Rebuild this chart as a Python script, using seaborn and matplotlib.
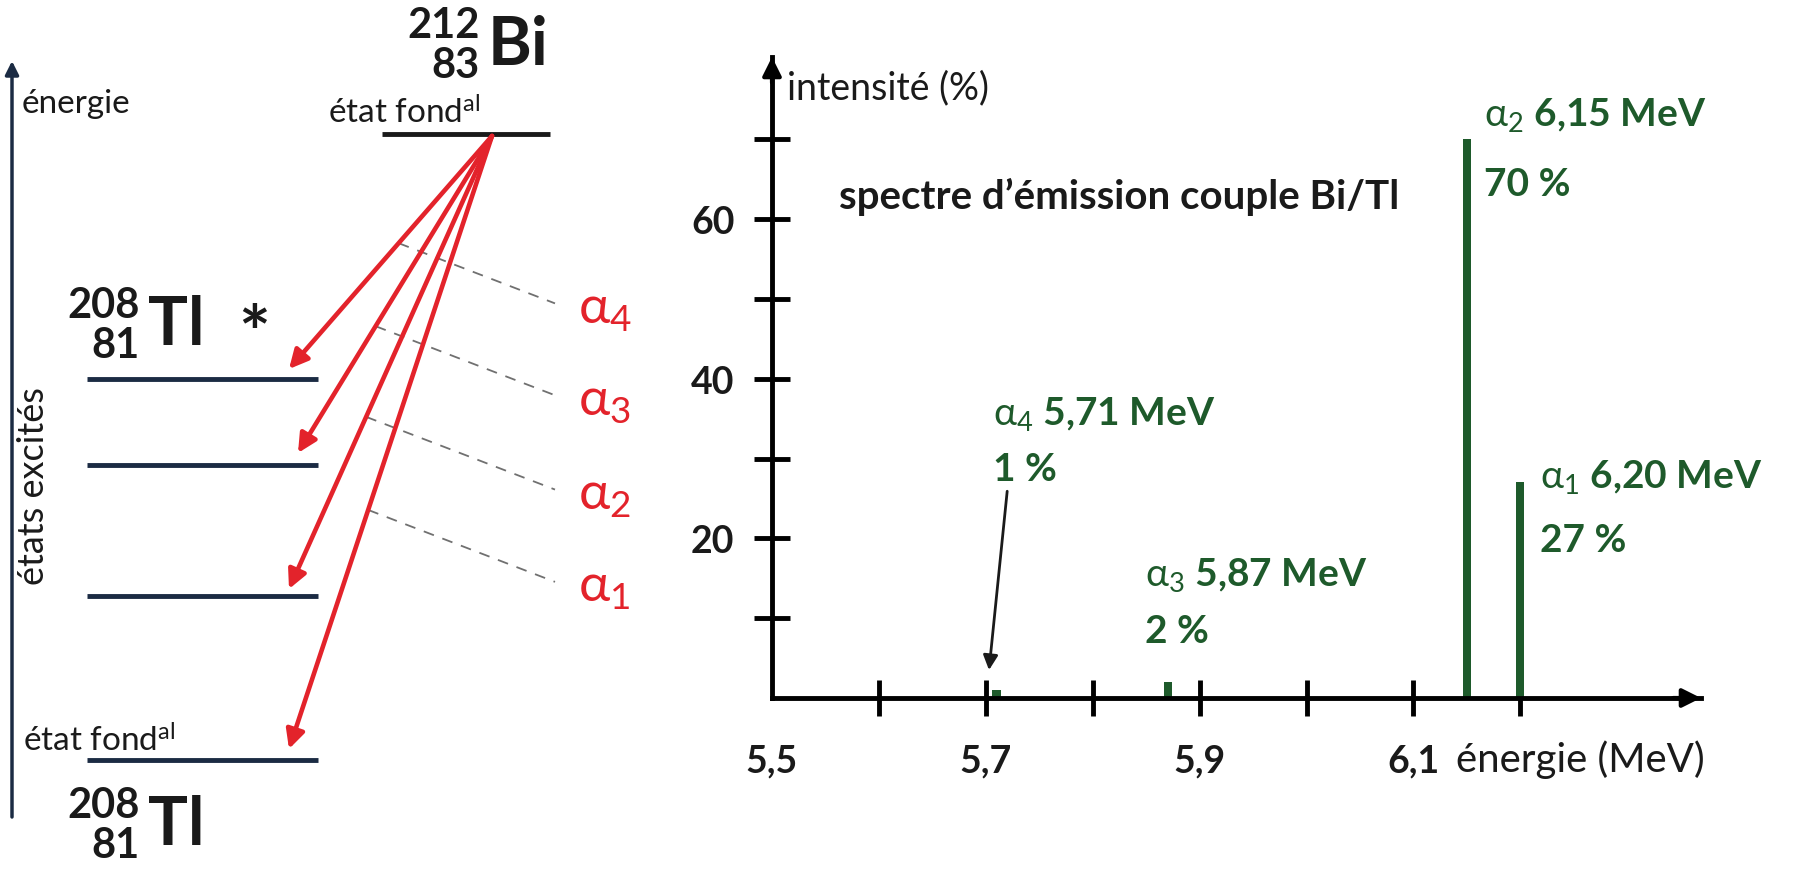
import matplotlib
matplotlib.use("Agg")
import matplotlib.pyplot as plt
import seaborn as sns
import pandas as pd

# Alpha lines of the 212Bi -> 208Tl decay
line_index = [4, 3, 2, 1]
energies_mev = [5.71, 5.87, 6.15, 6.20]
intensity_pct = [1, 2, 70, 27]

x_ticks = [5.5, 5.6, 5.7, 5.8, 5.9, 6.0, 6.1, 6.2]
x_tick_labels = ["5,5", "", "5,7", "", "5,9", "", "6,1", ""]
y_ticks = [10, 20, 30, 40, 50, 60, 70]
y_tick_labels = ["", "20", "", "40", "", "60", ""]

sns.set_theme(style="white")
plt.rcParams["font.family"] = ["Lato", "DejaVu Sans"]
plt.rcParams["mathtext.fontset"] = "custom"
plt.rcParams["mathtext.rm"] = "Lato"
plt.rcParams["mathtext.it"] = "Lato:italic"
plt.rcParams["mathtext.bf"] = "Lato:bold"

GREEN = "#1e5a2b"
RED = "#e3232b"
NAVY = "#1b2b43"
INK = "#1a1a1a"

W, H = 1814, 870
fig = plt.figure(figsize=(W / 100, H / 100), dpi=100)

# ---------------- level scheme (pixel units) ----------------
ax_d = fig.add_axes([0, 0, 1, 1])
ax_d.set_xlim(0, W)
ax_d.set_ylim(H, 0)
ax_d.axis("off")

# energy axis
ax_d.annotate("", xy=(12, 62), xytext=(12, 818),
              arrowprops=dict(arrowstyle="-|>", color=NAVY, lw=2.5,
                              mutation_scale=20, shrinkA=0, shrinkB=0))
ax_d.text(22, 104, "énergie", fontsize=24, ha="left", va="center", color=INK)
ax_d.text(34, 486, "états excités", fontsize=26, rotation=90,
          ha="center", va="center", color=INK)

# 208Tl levels
tl_levels = [380, 466, 597, 761]
for y in tl_levels:
    ax_d.plot([87, 318], [y, y], color=NAVY, lw=3.5, solid_capstyle="butt")
ax_d.text(23, 758, r"état fond$^{\mathrm{al}}$", fontsize=24,
          ha="left", va="bottom", color=INK)

# 212Bi ground state
ax_d.plot([382, 550], [135, 135], color=INK, lw=3.5, solid_capstyle="butt")
ax_d.text(328, 130, r"état fond$^{\mathrm{al}}$", fontsize=24,
          ha="left", va="bottom", color=INK)


def nuclide(x_right, y_mid, mass, charge, symbol, star=None):
    ax_d.text(x_right, y_mid - 1, mass, fontsize=30, fontweight="bold",
              ha="right", va="bottom", color=INK)
    ax_d.text(x_right, y_mid + 1, charge, fontsize=30, fontweight="bold",
              ha="right", va="top", color=INK)
    ax_d.text(x_right + 8, y_mid, symbol, fontsize=48, fontweight="bold",
              ha="left", va="center", color=INK)
    if star is not None:
        ax_d.text(star[0], star[1], "*", fontsize=54, fontweight="bold",
                  ha="center", va="center", color=INK)


nuclide(480, 46, "212", "83", "Bi")
nuclide(140, 326, "208", "81", "Tl", star=(254, 338))
nuclide(140, 826, "208", "81", "Tl")

# alpha transitions
start = (492, 137)
ends = [(289, 370), (298, 454), (289, 590), (289, 750)]
dash_frac = [0.46, 0.60, 0.62, 0.61]
for k, (ex, ey), t in zip(line_index, ends, dash_frac):
    ax_d.annotate("", xy=(ex, ey), xytext=start,
                  arrowprops=dict(arrowstyle="-|>", color=RED, lw=3.3,
                                  mutation_scale=28, shrinkA=0, shrinkB=0))
    sx = start[0] + t * (ex - start[0])
    sy = start[1] + t * (ey - start[1])
    dx = 555
    dy = sy + 0.385 * (dx - sx)
    ax_d.plot([sx, dx], [sy, dy], color="#707070", lw=1.3, ls=(0, (6, 5)))
    ax_d.text(578, dy + 6, rf"$\mathrm{{\alpha}}_{{{k}}}$", fontsize=38,
              color=RED, ha="left", va="center")

# ---------------- emission spectrum ----------------
ax = fig.add_axes([772 / W, 1 - 699 / H, (1701 - 772) / W, (699 - 58) / H])
ax.patch.set_alpha(0)

spec = pd.DataFrame({"energie": energies_mev, "intensite": intensity_pct})
sns.barplot(data=spec, x="energie", y="intensite", native_scale=True,
            width=0.15, color=GREEN, saturation=1, errorbar=None,
            linewidth=0, ax=ax)

ax.set_xlim(5.5, 6.369)
ax.set_ylim(0, 80.3)
ax.set_xlabel("")
ax.set_ylabel("")
for side in ("top", "right"):
    ax.spines[side].set_visible(False)
for side in ("left", "bottom"):
    ax.spines[side].set_linewidth(3.5)
    ax.spines[side].set_color("black")

ax.set_xticks(x_ticks)
ax.set_xticklabels(x_tick_labels, fontsize=27, fontweight="bold", color=INK)
ax.set_yticks(y_ticks)
ax.set_yticklabels(y_tick_labels, fontsize=27, fontweight="bold", color=INK)
ax.tick_params(axis="both", direction="inout", length=26, width=3.5,
               color="black", bottom=True, left=True)
ax.tick_params(axis="x", pad=20)
ax.tick_params(axis="y", pad=14)
ax.xaxis.get_major_ticks()[0].tick1line.set_visible(False)

# axis arrow heads
ax.annotate("", xy=(1.0, 0), xytext=(0.97, 0), xycoords="axes fraction",
            arrowprops=dict(arrowstyle="-|>", color="black", lw=3,
                            mutation_scale=28, shrinkA=0, shrinkB=0))
ax.annotate("", xy=(0, 1.0), xytext=(0, 0.96), xycoords="axes fraction",
            arrowprops=dict(arrowstyle="-|>", color="black", lw=3,
                            mutation_scale=28, shrinkA=0, shrinkB=0))

ax.text(5.514, 76.5, "intensité (%)", fontsize=27, ha="left", va="center",
        color=INK)
ax.text(6.14, -7.6, "énergie (MeV)", fontsize=29, ha="left", va="center",
        color=INK, clip_on=False)
ax.text(5.563, 62.9, "spectre d\u2019émission couple Bi/Tl", fontsize=29,
        fontweight="bold", ha="left", va="center", color=INK)

# line annotations: (x, y of first line, y of second line)
label_pos = [(5.707, 35.7, 28.8), (5.849, 15.5, 8.5),
             (6.166, 73.1, 64.4), (6.218, 27.8, 19.8)]
for k, e, p, (lx, ly1, ly2) in zip(line_index, energies_mev, intensity_pct,
                                   label_pos):
    e_txt = f"{e:.2f}".replace(".", ",")
    ax.text(lx, ly1, rf"$\mathrm{{\alpha}}_{{{k}}}$ {e_txt} MeV", fontsize=28,
            fontweight="bold", color=GREEN, ha="left", va="center")
    ax.text(lx, ly2, f"{p} %", fontsize=28, fontweight="bold", color=GREEN,
            ha="left", va="center")

# pointer to the weak alpha_4 line
ax.annotate("", xy=(energies_mev[0] - 0.007, intensity_pct[0] + 2.5),
            xytext=(5.720, 25.9),
            arrowprops=dict(arrowstyle="-|>", color=INK, lw=2,
                            mutation_scale=22, shrinkA=0, shrinkB=0))

fig.savefig("out.png", dpi=100)
